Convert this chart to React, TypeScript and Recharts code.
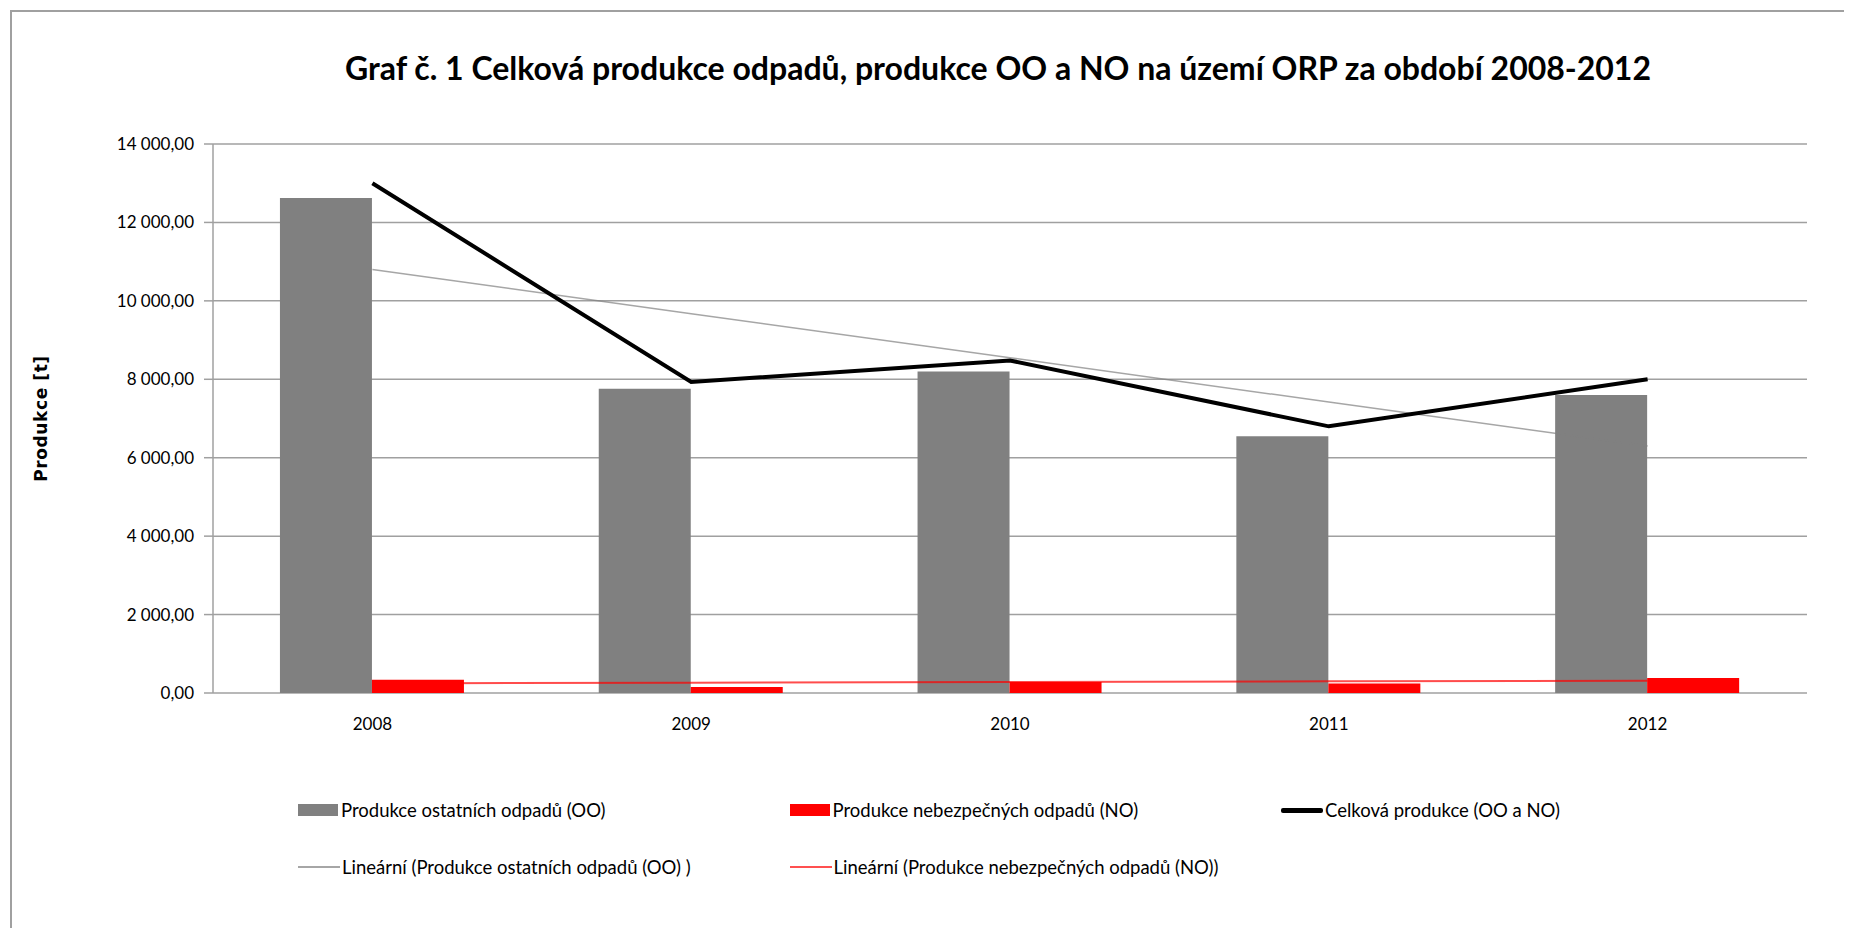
import { ComposedChart, Bar, Line, XAxis, YAxis, CartesianGrid, Legend } from 'recharts'

const ROKY = ['2008', '2009', '2010', '2011', '2012']
const OSTATNI = [12620, 7760, 8200, 6550, 7600]
const NEBEZPECNE = [340, 150, 280, 245, 385]
const CELKEM = [13000, 7930, 8480, 6800, 8000]
const TREND_OSTATNI = [10800, 9670, 8550, 7420, 6300]
const TREND_NEBEZPECNE = [245, 262, 280, 298, 315]
const Y_TICKY = [0, 2000, 4000, 6000, 8000, 10000, 12000, 14000]
const HRANICE = [0, 1, 2, 3, 4, 5]

const NAZEV = 'Graf č. 1 Celková produkce odpadů, produkce OO a NO na území ORP za období 2008-2012'

const data = ROKY.map((rok, i) => ({
  rok,
  oo: OSTATNI[i],
  no: NEBEZPECNE[i],
  celkem: CELKEM[i],
  trendOO: TREND_OSTATNI[i],
  trendNO: TREND_NEBEZPECNE[i],
}))

const SIRKA = 1836
const VYSKA = 920
const FONT = 'Lato, "Liberation Sans", sans-serif'

// legenda: [nazev, barva, druh symbolu]
const LEGENDA = [
  ['Produkce ostatních odpadů (OO)', '#808080', 'box'],
  ['Produkce nebezpečných odpadů (NO)', '#ff0000', 'box'],
  ['Celková produkce (OO a NO)', '#000000', 'thick'],
  ['Lineární (Produkce ostatních odpadů (OO) )', '#a6a6a6', 'thin'],
  ['Lineární (Produkce nebezpečných odpadů (NO))', '#ff5050', 'thin'],
]

const formatCislo = (v: number) => {
  const s = Math.round(v).toString().replace(/\B(?=(\d{3})+(?!\d))/g, '\u00a0')
  return s + ',00'
}

function Legenda() {
  return (
    <div style={{ position: 'relative', height: 130, width: SIRKA, fontFamily: FONT, fontSize: 18.5, color: '#000' }}>
      {LEGENDA.map(([nazev, barva, druh], i) => {
        const radek = i < 3 ? 0 : 1
        const sloupec = i < 3 ? i : i - 3
        return (
          <div
            key={nazev}
            style={{
              position: 'absolute',
              left: 290 + sloupec * 491.5,
              top: 67 + radek * 57 - 12,
              height: 24,
              display: 'flex',
              alignItems: 'center',
              whiteSpace: 'nowrap',
            }}
          >
            <span
              style={{
                display: 'inline-block',
                width: druh === 'box' ? 40 : 42,
                height: druh === 'box' ? 12 : druh === 'thick' ? 5 : 2,
                background: barva,
                borderRadius: druh === 'thick' ? 2 : 0,
                marginRight: druh === 'box' ? 3 : 2,
              }}
            />
            <span>{nazev}</span>
          </div>
        )
      })}
    </div>
  )
}

function PopisY({ viewBox }: any) {
  const x = viewBox.x + 33
  const y = viewBox.y + viewBox.height / 2
  return (
    <text
      x={x}
      y={y}
      transform={`rotate(-90 ${x} ${y})`}
      textAnchor="middle"
      dominantBaseline="central"
      fontFamily='"DejaVu Sans", Verdana, sans-serif'
      fontWeight="bold"
      fontSize={17}
      letterSpacing={0.6}
      fill="#000"
    >
      Produkce [t]
    </text>
  )
}

export default function App() {
  return (
    <div
      style={{
        position: 'relative',
        width: SIRKA + 8,
        height: VYSKA + 8,
        marginBottom: -8,
        overflow: 'hidden',
        background: '#fff',
      }}
    >
      <div
        style={{
          position: 'absolute',
          left: 2,
          top: 2,
          width: 3000,
          height: 3000,
          borderLeft: '2px solid #a0a0a0',
          borderTop: '2px solid #a0a0a0',
        }}
      />
      <div
        style={{
          position: 'absolute',
          left: 0,
          width: SIRKA,
          top: 40,
          textAlign: 'center',
          fontFamily: FONT,
          fontWeight: 'bold',
          fontSize: 32,
          lineHeight: '40px',
          color: '#000',
        }}
      >
        <span style={{ position: 'relative', left: 72 }}>{NAZEV}</span>
      </div>
      <ComposedChart
        width={SIRKA}
        height={VYSKA}
        data={data}
        margin={{ top: 136, right: 37, left: 0, bottom: 55 }}
        barCategoryGap="21%"
        barGap={0}
        style={{ position: 'absolute', left: 0, top: 0 }}
      >
        <CartesianGrid xAxisId="kat" vertical={false} stroke="#a0a0a0" strokeWidth={1.5} />
        <XAxis
          xAxisId="hranice"
          type="number"
          domain={[0, 5]}
          ticks={HRANICE}
          tick={false}
          tickSize={10}
          height={0}
          allowDataOverflow
          axisLine={{ stroke: '#a0a0a0', strokeWidth: 1.5 }}
          tickLine={{ stroke: '#a0a0a0', strokeWidth: 1.5 }}
        />
        <XAxis
          xAxisId="kat"
          dataKey="rok"
          height={50}
          axisLine={false}
          tickLine={false}
          tickSize={0}
          tickMargin={25}
          tick={{ fill: '#000', fontFamily: FONT, fontSize: 17 }}
        />
        <YAxis
          width={205}
          domain={[0, 14000]}
          ticks={Y_TICKY}
          tickFormatter={formatCislo}
          tickSize={9}
          tickMargin={10}
          axisLine={{ stroke: '#a0a0a0', strokeWidth: 1.5 }}
          tickLine={{ stroke: '#a0a0a0', strokeWidth: 1.5 }}
          tick={{ fill: '#000', fontFamily: FONT, fontSize: 17 }}
          label={<PopisY />}
        />
        <Bar xAxisId="kat" dataKey="oo" name={LEGENDA[0][0]} fill="#808080" isAnimationActive={false} />
        <Bar xAxisId="kat" dataKey="no" name={LEGENDA[1][0]} fill="#ff0000" isAnimationActive={false} />
        <Line
          xAxisId="kat"
          dataKey="trendOO"
          stroke="#808080"
          strokeOpacity={0.7}
          strokeWidth={1.5}
          dot={false}
          activeDot={false}
          isAnimationActive={false}
        />
        <Line
          xAxisId="kat"
          dataKey="trendNO"
          stroke="#ff0000"
          strokeOpacity={0.7}
          strokeWidth={2}
          dot={false}
          activeDot={false}
          isAnimationActive={false}
        />
        <Line
          xAxisId="kat"
          dataKey="celkem"
          stroke="#000000"
          strokeWidth={4}
          dot={false}
          activeDot={false}
          isAnimationActive={false}
        />
        <Legend
          verticalAlign="bottom"
          content={<Legenda />}
          wrapperStyle={{ top: 735, left: 0, width: SIRKA, height: 130 }}
        />
      </ComposedChart>
    </div>
  )
}
